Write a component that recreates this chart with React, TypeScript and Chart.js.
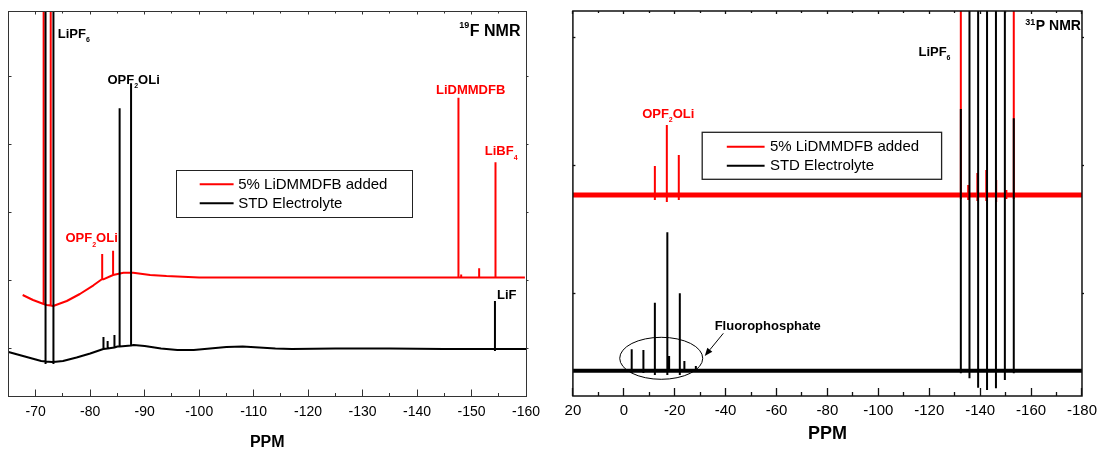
import React, { useEffect, useRef } from 'react';
import { Chart, registerables } from 'chart.js';

Chart.register(...registerables);

type Pt = [number, number];
type Peak = [number, number, number, number?]; // ppm, base, top, lowest (optional dip)
type Part = [string, 'n' | 'sub' | 'sup'];

const RED = '#ff0000';
const BLACK = '#000000';
const FONT = '"Liberation Sans", Arial, Helvetica, sans-serif';

const LEGEND_ADDED = '5% LiDMMDFB added';
const LEGEND_STD = 'STD Electrolyte';

// ---------------- 19F NMR (left panel) ----------------
const F_X_TICKS = [-70, -80, -90, -100, -110, -120, -130, -140, -150, -160];
const F_X_MINOR = [-75, -85, -95, -105, -115, -125, -135, -145, -155];
const F_Y_TICKS = [48, 116, 184, 252, 320];

const F_STD_BASELINE: Pt[] = [
  [-65, 44], [-68, 39.5], [-71, 35], [-73, 34], [-75, 35], [-77.5, 38.5], [-80, 42.5],
  [-82.5, 47], [-85, 49.5], [-88, 51], [-90, 50], [-93, 47.5], [-96, 46], [-99, 46],
  [-102, 47.5], [-105, 49], [-108, 49.5], [-111, 48.5], [-114, 47.5], [-117, 47],
  [-125, 47.5], [-135, 47.5], [-145, 47], [-160, 47],
];
const F_STD_PEAKS: Peak[] = [
  [-71.8, 34.5, 420, 32],
  [-73.25, 34, 420, 32],
  [-82.4, 47, 59],
  [-83.2, 47.5, 55],
  [-84.45, 48.5, 61],
  [-85.4, 49.5, 287.7],
  [-87.5, 50.5, 312.7],
  [-154.3, 47, 95, 45],
];

const F_ADD_BASELINE: Pt[] = [
  [-67.6, 101], [-69.5, 96], [-72, 91], [-73.2, 90], [-75.7, 95], [-78.1, 102],
  [-80.6, 110.7], [-82.4, 116.7], [-84.2, 121], [-86.1, 123.3], [-87.9, 123.3],
  [-91, 121], [-94, 120], [-100, 118.5], [-120, 118.5], [-159.8, 118.5],
];
const F_ADD_PEAKS: Peak[] = [
  [-71.45, 92, 420],
  [-72.75, 90.5, 420],
  [-82.2, 117, 142],
  [-84.2, 121, 145.3],
  [-147.6, 118.5, 298.3],
  [-148.1, 118.5, 121.5],
  [-151.4, 118.5, 127.7],
  [-154.4, 118.5, 233.7],
];

// ---------------- 31P NMR (right panel) ----------------
const P_X_TICKS = [20, 0, -20, -40, -60, -80, -100, -120, -140, -160, -180];
const P_X_MINOR = [10, -10, -30, -50, -70, -90, -110, -130, -150, -170];
const P_Y_TICKS = [103, 231, 359];

const P_ADD_BASELINE: Pt[] = [[20, 201], [-180, 201]];
const P_ADD_PEAKS: Peak[] = [
  [-12.2, 201, 230, 196],
  [-16.9, 201, 271, 194],
  [-21.6, 201, 241, 196],
  [-132.4, 201, 420, 197],
  [-135.3, 201, 211, 196],
  [-138.9, 201, 223, 195],
  [-142.4, 201, 226, 195],
  [-146.3, 201, 216, 194],
  [-150.3, 201, 206, 197],
  [-153.2, 201, 420, 197],
];

const P_STD_BASELINE: Pt[] = [[20, 25.3], [-180, 25.3]];
const P_STD_PEAKS: Peak[] = [
  [-3.1, 25.3, 46.7, 23],
  [-7.7, 25.3, 46, 23],
  [-12.2, 25.3, 93.3, 21],
  [-17.1, 25.3, 163.7, 21],
  [-17.8, 25.3, 40],
  [-22.0, 25.3, 102.7, 21],
  [-23.8, 25.3, 35],
  [-28.3, 25.3, 30],
  [-132.4, 25.3, 287, 22.7],
  [-135.8, 25.3, 420, 17.7],
  [-139.2, 25.3, 420, 8.3],
  [-142.7, 25.3, 420, 6],
  [-146.2, 25.3, 420, 7.7],
  [-149.7, 25.3, 420, 16],
  [-153.2, 25.3, 277.7, 22.7],
];

// ---------------- annotations ----------------
interface Label { parts: Part[]; ppm: number; v: number; color: string; size: number; supDy?: number }

const F_LABELS: Label[] = [
  { parts: [['LiPF', 'n'], ['6', 'sub']], ppm: -74.05, v: 358.5, color: BLACK, size: 13 },
  { parts: [['OPF', 'n'], ['2', 'sub'], ['OLi', 'n']], ppm: -83.17, v: 312.5, color: BLACK, size: 13 },
  { parts: [['OPF', 'n'], ['2', 'sub'], ['OLi', 'n']], ppm: -75.46, v: 154, color: RED, size: 13 },
  { parts: [['LiDMMDFB', 'n']], ppm: -143.48, v: 302, color: RED, size: 13 },
  { parts: [['LiBF', 'n'], ['4', 'sub']], ppm: -152.44, v: 241, color: RED, size: 13 },
  { parts: [['LiF', 'n']], ppm: -154.68, v: 97, color: BLACK, size: 13 },
  { parts: [['19', 'sup'], ['F NMR', 'n']], ppm: -147.76, v: 360, color: BLACK, size: 16, supDy: 8.5 },
];

const P_LABELS: Label[] = [
  { parts: [['OPF', 'n'], ['2', 'sub'], ['OLi', 'n']], ppm: -7.2, v: 278.5, color: RED, size: 13 },
  { parts: [['LiPF', 'n'], ['6', 'sub']], ppm: -115.75, v: 340.3, color: BLACK, size: 13 },
  { parts: [['31', 'sup'], ['P NMR', 'n']], ppm: -157.75, v: 366, color: BLACK, size: 14, supDy: 5.5 },
  { parts: [['Fluorophosphate', 'n']], ppm: -35.7, v: 66.5, color: BLACK, size: 13 },
];

// ---------------- helpers ----------------
function spectrum(baseline: Pt[], peaks: Peak[]) {
  const items: { x: number; ys: number[] }[] = [
    ...baseline.map(([x, y]) => ({ x, ys: [y] })),
    ...peaks.map(([x, base, top, low]) => ({
      x,
      ys: low === undefined ? [base, top, base] : [base, top, low, base],
    })),
  ];
  items.sort((a, b) => b.x - a.x);
  const pts: { x: number; y: number }[] = [];
  for (const it of items) for (const y of it.ys) pts.push({ x: it.x, y });
  return pts;
}

interface Decor {
  xMajor: number[]; xMinor: number[]; yTicks: number[];
  frameColor: string; frameWidth: number; tickWidth: number;
  majorLen: number; minorLen: number; topMajorLen: number; topMinorLen: number; yLen: number;
  labels: Label[];
  legend: { left: number; top: number; right: number; bottom: number; x0: number; x1: number; tx: number; rows: number[]; border: number };
  ellipse?: { ppm: number; v: number; rx: number; ry: number };
  arrow?: { from: Pt; to: Pt };
}

function decorPlugin(d: Decor) {
  return {
    id: 'decor',
    afterDraw(chart: any) {
      const { ctx, chartArea: a, scales } = chart;
      const xs = scales.x;
      const ys = scales.y;
      const px = (v: number) => xs.getPixelForValue(v);
      const py = (v: number) => ys.getPixelForValue(v);
      const line = (x1: number, y1: number, x2: number, y2: number) => {
        ctx.beginPath(); ctx.moveTo(x1, y1); ctx.lineTo(x2, y2); ctx.stroke();
      };
      ctx.save();
      // frame
      const L = d.frameWidth === 1 ? Math.floor(a.left) + 0.5 : a.left;
      const R = d.frameWidth === 1 ? Math.floor(a.right) + 0.5 : a.right;
      const T = d.frameWidth === 1 ? Math.floor(a.top) + 0.5 : a.top;
      const B = d.frameWidth === 1 ? Math.floor(a.bottom) + 0.5 : a.bottom;
      ctx.strokeStyle = d.frameColor;
      ctx.lineWidth = d.frameWidth;
      ctx.strokeRect(L, T, R - L, B - T);
      // ticks
      ctx.lineWidth = d.tickWidth;
      for (const v of d.xMajor) {
        const x = Math.floor(px(v)) + 0.5;
        line(x, B, x, B - d.majorLen);
        line(x, T, x, T + d.topMajorLen);
      }
      for (const v of d.xMinor) {
        const x = Math.floor(px(v)) + 0.5;
        line(x, B, x, B - d.minorLen);
        line(x, T, x, T + d.topMinorLen);
      }
      for (const v of d.yTicks) {
        const y = Math.floor(py(v)) + 0.5;
        line(L, y, L + d.yLen, y);
        line(R, y, R + 2, y);
      }
      // labels
      ctx.textBaseline = 'alphabetic';
      ctx.textAlign = 'left';
      for (const lb of d.labels) {
        let cx = px(lb.ppm);
        const by = py(lb.v);
        ctx.fillStyle = lb.color;
        for (const [t, k] of lb.parts) {
          const s = k === 'n' ? lb.size : k === 'sub' ? 7 : 9;
          const dy = k === 'sub' ? 4.5 : k === 'sup' ? -(lb.supDy ?? 7) : 0;
          ctx.font = `bold ${s}px ${FONT}`;
          ctx.fillText(t, cx, by + dy);
          cx += ctx.measureText(t).width + (k === 'sup' ? 0.5 : 0);
        }
      }
      // ellipse + arrow
      ctx.strokeStyle = BLACK;
      ctx.fillStyle = BLACK;
      ctx.lineWidth = 1;
      if (d.ellipse) {
        ctx.beginPath();
        ctx.ellipse(px(d.ellipse.ppm), py(d.ellipse.v), d.ellipse.rx, d.ellipse.ry, 0, 0, Math.PI * 2);
        ctx.stroke();
      }
      if (d.arrow) {
        const x1 = px(d.arrow.from[0]), y1 = py(d.arrow.from[1]);
        const x2 = px(d.arrow.to[0]), y2 = py(d.arrow.to[1]);
        const ang = Math.atan2(y2 - y1, x2 - x1);
        const hl = 8, hw = 3.2;
        const bx = x2 - hl * Math.cos(ang), by2 = y2 - hl * Math.sin(ang);
        line(x1, y1, bx, by2);
        ctx.beginPath();
        ctx.moveTo(x2, y2);
        ctx.lineTo(bx + hw * Math.sin(ang), by2 - hw * Math.cos(ang));
        ctx.lineTo(bx - hw * Math.sin(ang), by2 + hw * Math.cos(ang));
        ctx.closePath();
        ctx.fill();
      }
      // legend
      const lg = d.legend;
      ctx.fillStyle = '#ffffff';
      ctx.fillRect(lg.left, lg.top, lg.right - lg.left, lg.bottom - lg.top);
      ctx.strokeStyle = '#222222';
      ctx.lineWidth = lg.border;
      ctx.strokeRect(lg.left, lg.top, lg.right - lg.left, lg.bottom - lg.top);
      const items = chart.data.datasets
        .filter((ds: any) => ds.legendRow !== undefined)
        .sort((p: any, q: any) => p.legendRow - q.legendRow);
      ctx.font = `15px ${FONT}`;
      ctx.textBaseline = 'middle';
      items.forEach((ds: any, i: number) => {
        const y = lg.rows[i];
        ctx.strokeStyle = ds.borderColor;
        ctx.lineWidth = 2;
        line(lg.x0, y, lg.x1, y);
        ctx.fillStyle = BLACK;
        ctx.fillText(ds.label, lg.tx, y + 0.5);
      });
      ctx.restore();
    },
  };
}

interface PanelProps {
  left: number; width: number;
  datasets: any[];
  xMin: number; xMax: number; yMax: number;
  xTicks: number[];
  padding: { left: number; right: number; top: number };
  tickSize: number; tickPad: number;
  titleSize: number; titleLH: number; titlePad: number;
  decor: Decor;
}

function Panel(p: PanelProps) {
  const ref = useRef<HTMLCanvasElement>(null);
  useEffect(() => {
    if (!ref.current) return;
    const chart = new Chart(ref.current, {
      type: 'line',
      data: { datasets: p.datasets },
      options: {
        responsive: false,
        animation: false,
        events: [],
        layout: { padding: { left: p.padding.left, right: p.padding.right, top: p.padding.top, bottom: 0 } },
        plugins: { legend: { display: false }, tooltip: { enabled: false }, title: { display: false } },
        elements: { point: { radius: 0 }, line: { tension: 0, fill: false } },
        scales: {
          x: {
            type: 'linear',
            min: p.xMin,
            max: p.xMax,
            reverse: true,
            grid: { display: false, drawTicks: false },
            border: { display: false },
            afterBuildTicks: (s: any) => { s.ticks = p.xTicks.map((value) => ({ value })); },
            afterFit: (s: any) => { s.height = 53; },
            ticks: {
              autoSkip: false,
              maxRotation: 0,
              minRotation: 0,
              padding: p.tickPad,
              color: BLACK,
              font: { family: FONT, size: p.tickSize },
              callback: (v: any) => String(v),
            },
            title: {
              display: true,
              text: 'PPM',
              color: BLACK,
              font: { family: FONT, size: p.titleSize, weight: 'bold', lineHeight: p.titleLH },
              padding: { top: 0, bottom: p.titlePad },
            },
          },
          y: { type: 'linear', display: false, min: 0, max: p.yMax },
        },
      } as any,
      plugins: [decorPlugin(p.decor)],
    });
    return () => chart.destroy();
  }, []);
  return (
    <canvas
      ref={ref}
      width={p.width}
      height={449}
      style={{ position: 'absolute', left: p.left, top: 0, width: p.width, height: 449 }}
    />
  );
}

const lineDs = (label: string, data: any[], color: string, width: number, order: number, legendRow?: number) => ({
  label,
  data,
  borderColor: color,
  backgroundColor: color,
  borderWidth: width,
  borderJoinStyle: 'bevel',
  borderCapStyle: 'butt',
  pointRadius: 0,
  fill: false,
  order,
  clip: 0,
  legendRow,
});

export default function App() {
  const fDatasets = [
    lineDs(LEGEND_STD, spectrum(F_STD_BASELINE, F_STD_PEAKS), BLACK, 2, 0, 1),
    lineDs(LEGEND_ADDED, spectrum(F_ADD_BASELINE, F_ADD_PEAKS), RED, 2, 1, 0),
  ];
  const pDatasets = [
    lineDs(LEGEND_STD + ' peaks', spectrum([], P_STD_PEAKS), BLACK, 2, 0),
    lineDs(LEGEND_STD, spectrum(P_STD_BASELINE, []), BLACK, 4, 1, 1),
    lineDs(LEGEND_ADDED + ' peaks', spectrum([], P_ADD_PEAKS), RED, 2, 2),
    lineDs(LEGEND_ADDED, spectrum(P_ADD_BASELINE, []), RED, 5, 3, 0),
  ];
  const fDecor: Decor = {
    xMajor: F_X_TICKS, xMinor: F_X_MINOR, yTicks: F_Y_TICKS,
    frameColor: '#333333', frameWidth: 1, tickWidth: 1,
    majorLen: 7, minorLen: 3.5, topMajorLen: 3, topMinorLen: 2, yLen: 3,
    labels: F_LABELS,
    legend: { left: 176.5, top: 170.5, right: 412.5, bottom: 217.5, x0: 199.7, x1: 233.6, tx: 238.2, rows: [184.3, 203.3], border: 1 },
  };
  const pDecor: Decor = {
    xMajor: P_X_TICKS, xMinor: P_X_MINOR, yTicks: P_Y_TICKS,
    frameColor: '#111111', frameWidth: 1.5, tickWidth: 1.3,
    majorLen: 8, minorLen: 4, topMajorLen: 3, topMinorLen: 2, yLen: 2.5,
    labels: P_LABELS,
    legend: { left: 152.2, top: 132.3, right: 391.6, bottom: 179.3, x0: 176.8, x1: 214.6, tx: 219.9, rows: [146.7, 165.7], border: 1.3 },
    ellipse: { ppm: -14.7, v: 37.7, rx: 41.5, ry: 21 },
    arrow: { from: [-39.1, 62.7], to: [-31.8, 40] },
  };
  return (
    <div style={{ position: 'absolute', left: 0, top: 0, width: 1103, height: 449, background: '#ffffff', overflow: 'hidden' }}>
      <Panel
        left={0} width={550} datasets={fDatasets}
        xMin={-160} xMax={-65} yMax={384.5} xTicks={F_X_TICKS}
        padding={{ left: 8.5, right: 24, top: 11.5 }}
        tickSize={14} tickPad={8} titleSize={16} titleLH={0.8} titlePad={0}
        decor={fDecor}
      />
      <Panel
        left={550} width={553} datasets={pDatasets}
        xMin={-180} xMax={20} yMax={385} xTicks={P_X_TICKS}
        padding={{ left: 22.9, right: 17.7, top: 11 }}
        tickSize={15} tickPad={6} titleSize={18} titleLH={1} titlePad={5.5}
        decor={pDecor}
      />
    </div>
  );
}
